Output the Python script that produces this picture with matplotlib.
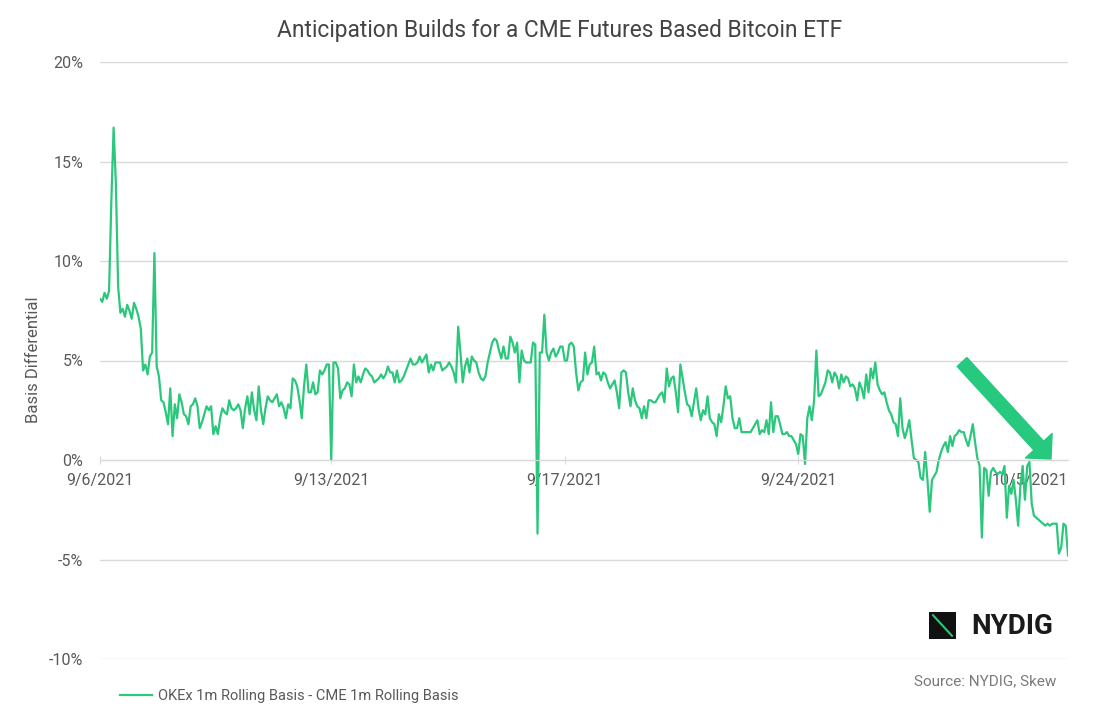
import matplotlib.pyplot as plt
import numpy as np

plt.rcParams['font.family'] = ['Roboto', 'DejaVu Sans']

# basis differential (%), one reading per step
basis = [
    8.1, 7.95, 8.4, 8.1, 8.5, 13.0, 16.7, 13.9, 8.7, 7.4,
    7.6, 7.2, 7.8, 7.5, 7.1, 7.9, 7.6, 7.2, 6.6, 4.5,
    4.8, 4.3, 5.2, 5.4, 10.4, 4.7, 4.2, 3.0, 2.9, 2.4, 1.8,
    3.6, 1.2, 2.8, 2.1, 3.3, 2.9, 2.3, 2.2, 1.8, 2.7,
    2.8, 3.1, 2.7, 1.6, 1.9, 2.3, 2.7, 2.5, 2.7, 1.3, 1.7,
    1.3, 2.1, 2.6, 2.4, 2.3, 3.0, 2.6, 2.5, 2.6, 2.8,
    2.5, 1.6, 2.6, 3.2, 2.3, 3.4, 2.5, 2.0, 3.7, 2.5,
    1.8, 2.6, 3.2, 3.0, 2.9, 3.1, 3.3, 2.7, 2.9, 2.6, 2.1,
    2.8, 2.6, 4.1, 4.0, 3.7, 3.0, 2.1, 3.7, 4.8, 3.4,
    3.4, 3.9, 3.3, 3.4, 4.5, 4.3, 4.5, 4.8, 4.8, 0.0,
    # 9/13
    4.9, 4.9, 4.6, 3.1, 3.5, 3.6, 3.9, 3.8, 3.2, 4.8,
    3.9, 4.2, 3.9, 4.3, 4.6, 4.5, 4.3, 4.2, 3.9, 4.0,
    4.1, 4.3, 4.1, 4.3, 4.7, 4.4, 4.4, 3.9, 4.5, 3.9,
    4.0, 4.2, 4.5, 4.8, 5.1, 4.8, 4.8, 4.9, 5.2, 4.9,
    5.1, 5.3, 4.4, 4.8, 4.5, 4.9, 4.9, 4.9, 4.5, 4.6,
    4.7, 4.9, 4.7, 4.4, 3.9, 6.7, 5.4, 3.9, 4.7, 5.1,
    4.4, 5.2, 5.0, 4.9, 4.4, 4.1, 4.0, 4.2, 4.9, 5.4,
    5.9, 6.1, 6.0, 5.5, 5.1, 5.7, 5.1, 5.1, 6.2, 5.9,
    5.4, 5.9, 3.9, 5.5, 5.0, 4.9, 4.9, 4.9, 5.9, 5.8,
    -3.7, 5.4, 5.4, 7.3, 5.4, 5.0, 5.4, 5.6, 5.2, 5.4,
    # 9/17
    5.7, 5.7, 5.0, 5.0, 5.8, 5.9, 5.7, 4.4, 3.5, 3.9,
    4.0, 5.4, 4.3, 4.8, 4.9, 5.7, 4.3, 4.4, 4.0, 4.4,
    4.3, 3.9, 3.6, 3.8, 4.0, 3.4, 2.6, 4.4, 4.5, 4.4,
    3.4, 2.7, 3.6, 3.0, 2.7, 2.6, 2.1, 2.7, 2.1, 3.0,
    3.0, 2.9, 2.9, 3.1, 3.3, 3.4, 2.9, 4.6, 3.7, 4.1,
    4.2, 3.4, 2.4, 4.8, 4.1, 3.4, 2.8, 2.7, 2.2, 2.9,
    3.6, 2.6, 2.0, 2.5, 2.3, 3.2, 2.1, 1.9, 1.8, 1.2,
    2.3, 1.9, 2.7, 3.7, 3.1, 3.2, 2.1, 1.6, 1.6, 2.1,
    1.4, 1.4, 1.4, 1.4, 1.4, 1.6, 1.8, 2.0, 1.3, 1.5,
    1.4, 2.0, 1.3, 2.9, 1.4, 2.2, 2.2, 1.8, 1.3, 1.3,
    1.4, 1.2, 1.2, 1.0, 0.8, 0.3, 1.3, 1.2, -0.2, 2.1,
    2.7, 2.0, 3.0, 5.5, 3.2,
    # 9/24 onwards
    3.3, 3.6, 3.9, 4.5, 4.4, 3.9, 4.4, 4.2, 3.6, 4.3,
    3.9, 4.2, 4.1, 3.7, 3.8, 3.6, 3.0, 3.9, 3.6, 3.1,
    4.3, 3.4, 4.6, 4.1, 4.9,
    3.8, 3.5, 3.3, 3.4, 2.9, 2.5, 2.3, 1.9, 1.8, 1.2,
    3.1, 1.6, 1.1, 1.5, 2.0, 1.0, 0.1, 0.0, -0.1, -0.9,
    -1.0, 0.4, -1.0, -2.6, -1.0, -0.8, -0.6, 0.0, 0.4, 0.7,
    0.9, 0.4, 1.2, 0.7, 1.2, 1.3, 1.5, 1.4, 1.4, 1.0,
    0.7, 1.2, 1.8, 0.9, 0.1, -0.3, -3.9, -0.4, -0.5, -1.8,
    -0.6, -0.4, -0.6, -0.7, -0.6, -0.7, -0.3, -2.9, -1.3, -1.7,
    -1.0, -2.0, -3.3, -1.3, -0.3, -2.0, -0.3, -0.1, -2.2, -2.8,
    -2.9, -3.0, -3.1, -3.2, -3.3, -3.2, -3.3, -3.2, -3.2, -3.2,
    -4.7, -4.4, -3.2, -3.3, -4.8,
]
date_labels = ['9/6/2021', '9/13/2021', '9/17/2021', '9/24/2021', '10/5/2021']
y_ticks = [-10, -5, 0, 5, 10, 15, 20]

green = '#2bc77c'
grey_txt = '#595959'
grid_c = '#d9d9d9'

x = np.arange(len(basis))
tick_idx = [0, 102, 205, 308, 410]

W, H = 1120, 717
fig = plt.figure(figsize=(W / 100, H / 100), dpi=100)
ax = fig.add_axes([100 / W, 1 - 659 / H, 968 / W, 597 / H])

ax.plot(x, basis, color=green, lw=1.6, label='OKEx 1m Rolling Basis - CME 1m Rolling Basis')

ax.set_xlim(0, len(basis) - 1)
ax.set_ylim(-10, 20)
ax.set_yticks(y_ticks)
ax.set_yticklabels([f'{v}%' for v in y_ticks])
ax.grid(axis='y', color=grid_c, lw=1)
ax.set_axisbelow(True)
for s in ['top', 'right', 'left']:
    ax.spines[s].set_visible(False)
ax.spines['bottom'].set_position(('data', 0))
ax.spines['bottom'].set_color(grid_c)
ax.tick_params(axis='y', length=0, pad=12, labelsize=11.5, labelcolor=grey_txt)
ax.tick_params(axis='x', direction='inout', length=6, color=grid_c, pad=6,
               labelsize=11.5, labelcolor=grey_txt)
ax.set_xticks(tick_idx)
ax.set_xticklabels(date_labels)

fig.text(0.5, 1 - 30 / H, 'Anticipation Builds for a CME Futures Based Bitcoin ETF',
         ha='center', va='center', fontsize=16.4, color='#444444')
fig.text(33 / W, 1 - 360 / H, 'Basis Differential', rotation=90,
         ha='center', va='center', fontsize=12, color=grey_txt)

fig.legend(loc='center left', bbox_to_anchor=(107 / W, 1 - 696 / H), frameon=False,
           fontsize=10.5, labelcolor=grey_txt, handlelength=2.2, handletextpad=0.4)
fig.text(1056 / W, 1 - 681 / H, 'Source: NYDIG, Skew', ha='right', va='center',
         fontsize=11, color='#7a7a7a')

# green arrow pointing down to the latest readings
ax.annotate('', xy=(1051, H - 459), xytext=(962, H - 362),
            xycoords='figure pixels', textcoords='figure pixels',
            arrowprops=dict(arrowstyle='simple,head_length=1.3,head_width=2.6,tail_width=0.95',
                            color='#26c97e', mutation_scale=10, shrinkA=0, shrinkB=0))

# NYDIG logo
lax = fig.add_axes([929 / W, 1 - 639 / H, 27 / W, 27 / H])
lax.set_facecolor('#111111')
lax.plot([0.15, 0.85], [0.88, 0.12], color=green, lw=1.5)
lax.set_xlim(0, 1)
lax.set_ylim(0, 1)
lax.set_xticks([])
lax.set_yticks([])
for s in lax.spines.values():
    s.set_visible(False)
fig.text(971 / W, 1 - 626 / H, 'NYDIG', ha='left', va='center', fontsize=20,
         fontweight='bold', color='#1a1a1a')

fig.savefig('out.png', dpi=100)
